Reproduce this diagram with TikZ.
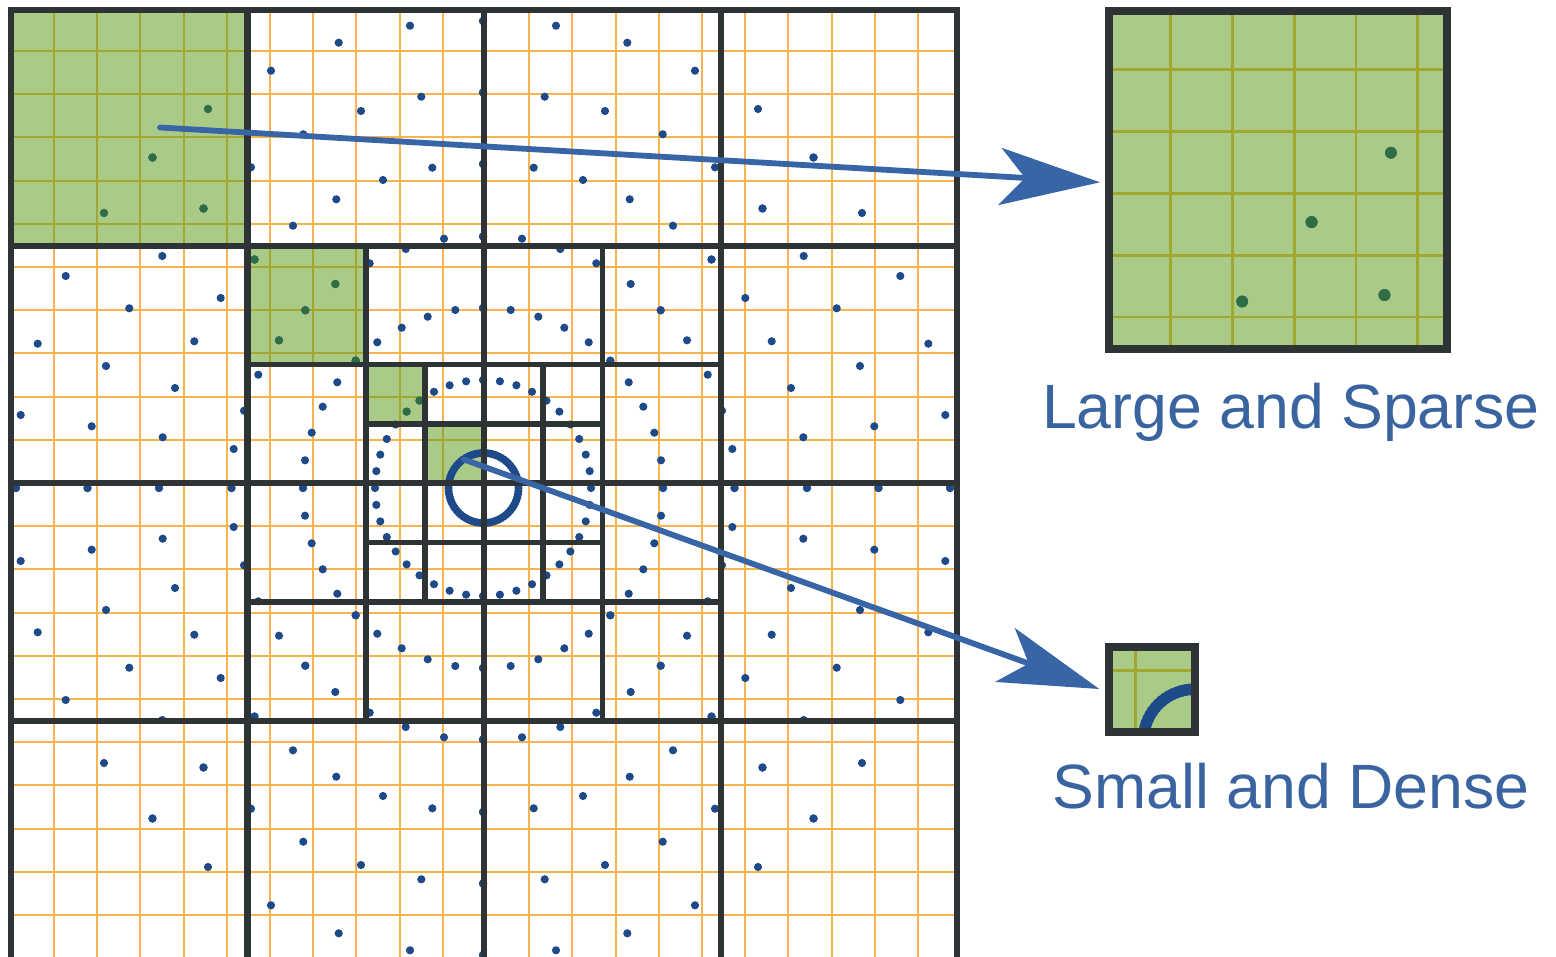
\documentclass[tikz,border=0pt]{standalone}
\usepackage{fontspec}
\setmainfont{Liberation Sans}
\usetikzlibrary{arrows.meta}
\definecolor{gridorange}{HTML}{F8B44E}
\definecolor{cellgreen}{HTML}{A9CB87}
\definecolor{gridolive}{HTML}{A2A72F}
\definecolor{borderdark}{HTML}{2E3436}
\definecolor{dotblue}{HTML}{1F4A8A}
\definecolor{dotgreen}{HTML}{2F6E43}
\definecolor{arrowblue}{HTML}{3865A5}
\definecolor{textblue}{HTML}{3A64A0}
\tikzset{
  outerline/.style={borderdark, line width=3.1pt, line cap=rect},
  halfline/.style={borderdark, line width=2.8pt, line cap=rect},
  quarterline/.style={borderdark, line width=2.6pt, line cap=rect},
  bluedot/.style={fill=dotblue},
  greendot/.style={fill=dotgreen},
  greencell/.style={fill=cellgreen},
  pointer/.style={arrowblue, line width=2.9pt, line cap=round,
    -{Stealth[length=50pt,width=28.5pt,inset=12.5pt]}},
  insetframe/.style={draw=borderdark, line width=4.2pt, inner sep=0pt, outer sep=0pt},
  caption/.style={text=textblue, font=\fontsize{31.3pt}{36pt}\selectfont, anchor=base, inner sep=0pt}
}
% fine grid: colour, width
\newcommand\finelines[2]{%
  \foreach \k in {0,...,20}{%
    \draw[#1, line width=#2] ({54+43.2*\k},10) -- ({54+43.2*\k},960);
    \draw[#1, line width=#2] (11,{51+43.2*\k}) -- (957,{51+43.2*\k});
  }}
\newcommand\drawdots{%
  \foreach \pa/\pb in {73/462.3,144.3/445.3,212/417.3,61.7/391.3,122/377,179.7/353.7,232/320.7,50.7/320.3,100/308,146.7/288.7,190/262.3,39/249.3,0/467,0/395.5,0/324,0/251.5,275/379,330.5/330.5,279.5/279.5,228.5/228.5,147.7/204,177.7/177.7,127.3/127.3,113.3/224.7,77.3/239,27.7/178,55.3/171.3,81.3/160.3,105.7/145.7,0/180}{%
    \foreach \sx in {1,-1}{\foreach \sy in {1,-1}{%
      \fill[bluedot] ({483+\sx*\pa},{488+\sy*\pb}) circle (4.1);
      \fill[bluedot] ({483+\sx*\pb},{488+\sy*\pa}) circle (4.1);
    }}}%
  \foreach \k in {0,...,39}{%
    \fill[bluedot] ({483+108*cos(9*\k)},{488+108*sin(9*\k)}) circle (4.1);}%
  \foreach \k in {0,...,71}{%
    \fill[bluedot] ({483.5+35*cos(5*\k)},{488+35*sin(5*\k)}) circle (4.1);}%
  \foreach \pa/\pb in {275/379,379/275,330.5/330.5,279.5/279.5,228.5/228.5,147.7/204,204/147.7,177.7/177.7,127.3/127.3}{%
    \fill[greendot] ({483-\pa},{488-\pb}) circle (4.1);}%
  \foreach \t in {225,234}{%
    \fill[greendot] ({483+108*cos(\t)},{488+108*sin(\t)}) circle (4.1);}%
}
\begin{document}
\begin{tikzpicture}[x=0.5pt,y=-0.5pt]
\useasboundingbox (0,0) rectangle (1556,957);
\clip (0,0) rectangle (1556,957);
\fill[white] (0,0) rectangle (1556,957);
% green cells
\fill[greencell] (11,10) rectangle (247.5,246);
\fill[greencell] (247.5,246) rectangle (366,364.5);
\fill[greencell] (366,364.5) rectangle (425,424);
\fill[greencell] (425,424) rectangle (484,483);
% fine grid
\finelines{gridorange}{1pt}
\foreach \cx/\cy/\dx/\dy in {11/10/247.5/246, 247.5/246/366/364.5, 366/364.5/425/424, 425/424/484/483}{%
  \begin{scope}
    \clip (\cx,\cy) rectangle (\dx,\dy);
    \finelines{gridolive}{1pt}
  \end{scope}}
% dots
\drawdots
% quadtree lines
\foreach \x in {247.5,484,721}{\draw[outerline] (\x,10) -- (\x,990);}
\foreach \y in {246,483,721}{\draw[outerline] (11,\y) -- (957,\y);}
\draw[outerline, line cap=butt, line join=miter] (11,990) -- (11,10) -- (957,10) -- (957,990);
\foreach \x in {366,602.5}{\draw[halfline] (\x,246) -- (\x,721);}
\foreach \y in {364.5,602}{\draw[halfline] (247.5,\y) -- (721,\y);}
\foreach \x in {425,543}{\draw[quarterline] (\x,364.5) -- (\x,602);}
\foreach \y in {424,542.5}{\draw[quarterline] (366,\y) -- (602.5,\y);}
% pointers
\coordinate (sparsefrom) at (160,127.5);
\coordinate (sparseto) at (1100,182.3);
\coordinate (densefrom) at (464,459.5);
\coordinate (denseto) at (1099.3,689);
\draw[pointer] (sparsefrom) -- (sparseto);
\draw[pointer] (densefrom) -- (denseto);
% large inset
\begin{scope}[shift={(1109.2,11.2)}, scale=1.43, shift={(-11,-10)}]
  \clip (11,10) rectangle (247.5,246);
  \fill[greencell] (11,10) rectangle (247.5,246);
  \finelines{gridolive}{1.43pt}
  \drawdots
\end{scope}
\node[insetframe, minimum width=169pt, minimum height=168.9pt] (sparseview) at (1278.2,180.1) {};
% small inset
\begin{scope}[shift={(1109.2,647)}, scale=1.458, shift={(-425,-424)}]
  \clip (425,424) rectangle (484,483);
  \fill[greencell] (425,424) rectangle (484,483);
  \finelines{gridolive}{1.458pt}
  \drawdots
\end{scope}
\node[insetframe, minimum width=43pt, minimum height=42.5pt] (denseview) at (1152.2,689.5) {};
% captions
\node[caption] (sparselabel) at (1291,428) {Large and Sparse};
\node[caption] (denselabel) at (1291,808) {Small and Dense};
\end{tikzpicture}
\end{document}
